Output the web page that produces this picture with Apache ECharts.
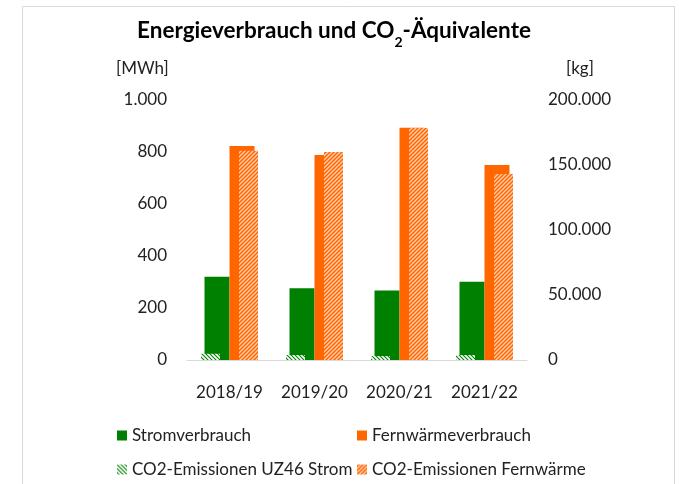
<!DOCTYPE html>
<html>
<head>
<meta charset="utf-8">
<script src="https://cdn.jsdelivr.net/npm/echarts@6/dist/echarts.min.js"></script>
<style>html,body{margin:0;padding:0;background:#fff;}#c{width:679px;height:484px;}</style>
</head>
<body>
<div id="c"></div>
<script>
const categories = ['2018/19', '2019/20', '2020/21', '2021/22'];
const stromMWh = [320, 276, 267, 301];
const fernwaermeMWh = [823, 788, 893, 750];
const co2StromKg = [4800, 3800, 3000, 3800];
const co2FernwaermeKg = [161000, 160000, 178500, 143000];
const leftTicks = [0, 200, 400, 600, 800, 1000];
const rightTicks = [0, 50000, 100000, 150000, 200000];

const GREEN = '#008000';
const ORANGE = '#FF6600';
const FONT = 'Lato';

function hatch(bg, fg, dir, lw) {
  const s = 4;
  const c = document.createElement('canvas');
  c.width = s; c.height = s;
  const g = c.getContext('2d');
  g.fillStyle = bg; g.fillRect(0, 0, s, s);
  g.strokeStyle = fg; g.lineWidth = lw;
  g.beginPath();
  if (dir === '/') {
    g.moveTo(-1, s + 1); g.lineTo(s + 1, -1);
    g.moveTo(-1, 1); g.lineTo(1, -1);
    g.moveTo(s - 1, s + 1); g.lineTo(s + 1, s - 1);
  } else {
    g.moveTo(-1, -1); g.lineTo(s + 1, s + 1);
    g.moveTo(s - 1, -1); g.lineTo(s + 1, 1);
    g.moveTo(-1, s - 1); g.lineTo(1, s + 1);
  }
  g.stroke();
  return { image: c, repeat: 'repeat' };
}

const fmt = v => String(v).replace(/\B(?=(\d{3})+(?!\d))/g, '.');
const legendText = { fontSize: 17, color: '#222', fontFamily: FONT };

const chart = echarts.init(document.getElementById('c'), null, { renderer: 'canvas' });
chart.setOption({
  animation: false,
  textStyle: { fontFamily: FONT },
  title: {
    left: 329, top: 14, textAlign: 'center',
    text: '{a|Energieverbrauch und CO}{s|2}{a|-Äquivalente}',
    textStyle: {
      rich: {
        a: { fontFamily: FONT, fontSize: 22.5, fontWeight: 'bold', color: '#000', lineHeight: 30, verticalAlign: 'top' },
        s: { fontFamily: FONT, fontSize: 14, fontWeight: 'bold', color: '#000', lineHeight: 14, verticalAlign: 'bottom' }
      }
    }
  },
  graphic: [
    { type: 'rect', shape: { x: 22.5, y: 6.5, width: 652, height: 490 }, style: { fill: 'none', stroke: '#d9d9d9', lineWidth: 1 }, silent: true },
    { type: 'text', left: 116, top: 60, style: { text: '[MWh]', fontFamily: FONT, fontSize: 17, fill: '#222' } },
    { type: 'text', left: 566, top: 60, style: { text: '[kg]', fontFamily: FONT, fontSize: 17, fill: '#222' } }
  ],
  grid: { left: 187, right: 152, top: 100, bottom: 124 },
  xAxis: [
    { type: 'category', data: categories, axisTick: { show: false },
      axisLine: { lineStyle: { color: '#d9d9d9' } },
      axisLabel: { color: '#222', fontSize: 17, fontFamily: FONT, margin: 24, interval: 0 } },
    { type: 'category', data: categories, show: false }
  ],
  yAxis: [
    { type: 'value', min: 0, max: 1000, interval: 200, splitLine: { show: false },
      axisLine: { show: false }, axisTick: { show: false },
      axisLabel: { color: '#222', fontSize: 17, fontFamily: FONT, margin: 20, formatter: v => leftTicks.includes(v) ? fmt(v) : '' } },
    { type: 'value', min: 0, max: 200000, interval: 50000, splitLine: { show: false },
      axisLine: { show: false }, axisTick: { show: false },
      axisLabel: { color: '#222', fontSize: 17, fontFamily: FONT, margin: 21, formatter: v => rightTicks.includes(v) ? fmt(v) : '' } }
  ],
  legend: [
    { left: 112, top: 422, data: ['Stromverbrauch'], itemWidth: 10, itemHeight: 10, icon: 'rect', textStyle: legendText },
    { left: 352, top: 422, data: ['Fernwärmeverbrauch'], itemWidth: 10, itemHeight: 10, icon: 'rect', textStyle: legendText },
    { left: 112, top: 456, data: ['CO2-Emissionen UZ46 Strom'], itemWidth: 10, itemHeight: 10, icon: 'rect', textStyle: legendText },
    { left: 352, top: 456, data: ['CO2-Emissionen Fernwärme'], itemWidth: 10, itemHeight: 10, icon: 'rect', textStyle: legendText }
  ],
  series: [
    { name: 'Stromverbrauch', type: 'bar', xAxisIndex: 0, yAxisIndex: 0, data: stromMWh,
      barWidth: 25, barGap: '0%', itemStyle: { color: GREEN } },
    { name: 'Fernwärmeverbrauch', type: 'bar', xAxisIndex: 0, yAxisIndex: 0, data: fernwaermeMWh,
      barWidth: 25, barGap: '0%', itemStyle: { color: ORANGE } },
    { name: 'CO2-Emissionen UZ46 Strom', type: 'bar', xAxisIndex: 1, yAxisIndex: 1, data: co2StromKg,
      barWidth: 19, barGap: '100%', itemStyle: { color: hatch('#ffffff', GREEN, '\\', 1.1) } },
    { name: 'CO2-Emissionen Fernwärme', type: 'bar', xAxisIndex: 1, yAxisIndex: 1, data: co2FernwaermeKg,
      barWidth: 19, barGap: '100%', itemStyle: { color: hatch(ORANGE, '#ffd0b0', '/', 1.3) } }
  ]
});
</script>
</body>
</html>
